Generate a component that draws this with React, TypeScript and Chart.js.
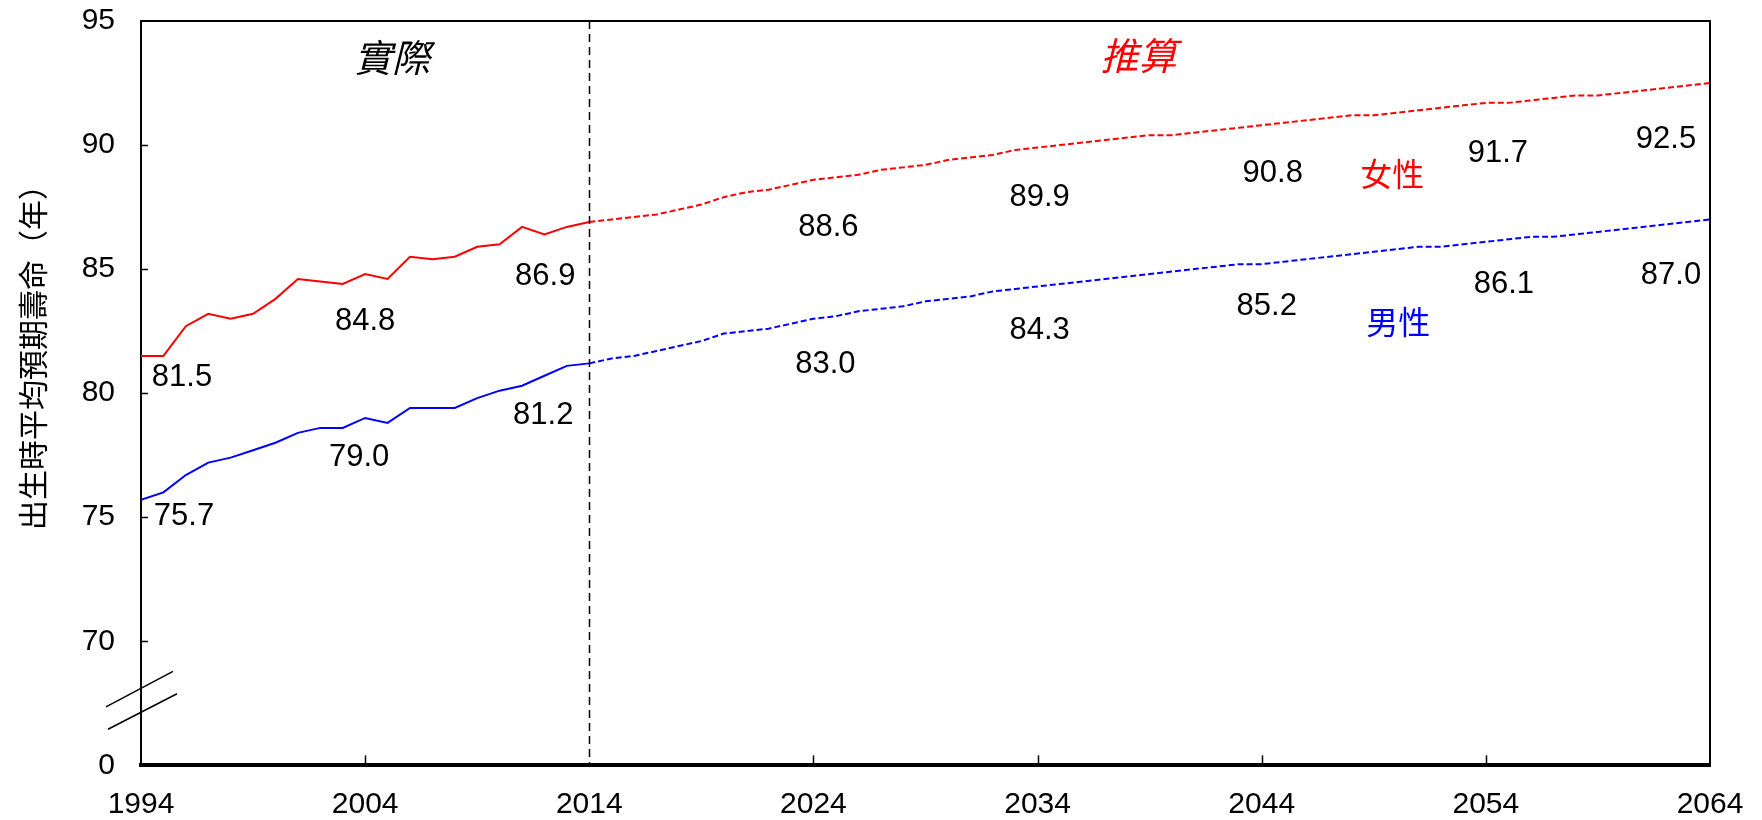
import React, { useEffect, useRef } from 'react';
import { Chart, registerables } from 'chart.js';

Chart.register(...registerables);

// ---------- data ----------
const actualYears = [1994, 1995, 1996, 1997, 1998, 1999, 2000, 2001, 2002, 2003, 2004, 2005, 2006, 2007, 2008, 2009, 2010, 2011, 2012, 2013, 2014];
const femaleActual = [81.5, 81.5, 82.7, 83.2, 83.0, 83.2, 83.8, 84.6, 84.5, 84.4, 84.8, 84.6, 85.5, 85.4, 85.5, 85.9, 86.0, 86.7, 86.4, 86.7, 86.9];
const maleActual = [75.7, 76.0, 76.7, 77.2, 77.4, 77.7, 78.0, 78.4, 78.6, 78.6, 79.0, 78.8, 79.4, 79.4, 79.4, 79.8, 80.1, 80.3, 80.7, 81.1, 81.2];

const projYears = [
  2014, 2015, 2016, 2017, 2018, 2019, 2020, 2021, 2022, 2023, 2024,
  2025, 2026, 2027, 2028, 2029, 2030, 2031, 2032, 2033, 2034,
  2035, 2036, 2037, 2038, 2039, 2040, 2041, 2042, 2043, 2044,
  2045, 2046, 2047, 2048, 2049, 2050, 2051, 2052, 2053, 2054,
  2055, 2056, 2057, 2058, 2059, 2060, 2061, 2062, 2063, 2064,
];
const femaleProj = [
  86.9, 87.0, 87.1, 87.2, 87.4, 87.6, 87.9, 88.1, 88.2, 88.4, 88.6,
  88.7, 88.8, 89.0, 89.1, 89.2, 89.4, 89.5, 89.6, 89.8, 89.9,
  90.0, 90.1, 90.2, 90.3, 90.4, 90.4, 90.5, 90.6, 90.7, 90.8,
  90.9, 91.0, 91.1, 91.2, 91.2, 91.3, 91.4, 91.5, 91.6, 91.7,
  91.7, 91.8, 91.9, 92.0, 92.0, 92.1, 92.2, 92.3, 92.4, 92.5,
];
const maleProj = [
  81.2, 81.4, 81.5, 81.7, 81.9, 82.1, 82.4, 82.5, 82.6, 82.8, 83.0,
  83.1, 83.3, 83.4, 83.5, 83.7, 83.8, 83.9, 84.1, 84.2, 84.3,
  84.4, 84.5, 84.6, 84.7, 84.8, 84.9, 85.0, 85.1, 85.2, 85.2,
  85.3, 85.4, 85.5, 85.6, 85.7, 85.8, 85.9, 85.9, 86.0, 86.1,
  86.2, 86.3, 86.3, 86.4, 86.5, 86.6, 86.7, 86.8, 86.9, 87.0,
];

const labelYears = [1994, 2004, 2014, 2024, 2034, 2044, 2054, 2064];
const xTicks = [1994, 2004, 2014, 2024, 2034, 2044, 2054, 2064];
const yTicks = [65, 70, 75, 80, 85, 90, 95];
const yBreakLabel = '0';
const dividerYear = 2014;

const yTitle = '出生時平均預期壽命（年）';
const actualText = '實際';
const projText = '推算';
const femaleName = '女性';
const maleName = '男性';

// ---------- styles / layout ----------
const RED = '#FF0000';
const BLUE = '#0000FF';
const SANS = 'Arial, "Liberation Sans", sans-serif';
const NUM_FONT = `31px ${SANS}`;
const CJK = '"Noto Sans CJK TC", "Noto Sans CJK SC", sans-serif';
// offsets (px) of the value labels from their data points
const femaleLabelOffsets = [[41, 22], [0, 47], [-44, 54], [15, 48], [2, 50], [11, 48], [12, 51], [-44, 56]];
const maleLabelOffsets = [[43, 17], [-6, 39], [-46, 52], [12, 46], [2, 44], [5, 42], [18, 43], [-39, 56]];

function valueAt(years: number[], vals: number[], yr: number) {
  const i = years.indexOf(yr);
  return i >= 0 ? vals[i] : NaN;
}

const allYears = [...actualYears, ...projYears.slice(1)];
const allFemale = [...femaleActual, ...femaleProj.slice(1)];
const allMale = [...maleActual, ...maleProj.slice(1)];

const decorPlugin = {
  id: 'decor',
  afterDatasetsDraw(chart: any) {
    const { ctx, chartArea: ca } = chart;
    const xs = chart.scales.x;
    const ys = chart.scales.y;
    ctx.save();

    // top & right frame
    ctx.strokeStyle = '#000';
    ctx.lineWidth = 2;
    ctx.beginPath();
    ctx.moveTo(ca.left, ca.top);
    ctx.lineTo(ca.right, ca.top);
    ctx.lineTo(ca.right, ca.bottom);
    ctx.stroke();

    // inside ticks
    ctx.lineWidth = 1.5;
    xTicks.forEach((t) => {
      if (t === xs.min || t === xs.max || t === dividerYear) return;
      const x = Math.round(xs.getPixelForValue(t)) + 0.5;
      ctx.beginPath();
      ctx.moveTo(x, ca.bottom);
      ctx.lineTo(x, ca.bottom - 10);
      ctx.stroke();
    });
    yTicks.forEach((t) => {
      if (t === ys.min || t === ys.max) return;
      const y = Math.round(ys.getPixelForValue(t)) + 0.5;
      ctx.beginPath();
      ctx.moveTo(ca.left, y);
      ctx.lineTo(ca.left + 7, y);
      ctx.stroke();
    });

    // divider between actual and projection
    const dx = Math.round(xs.getPixelForValue(dividerYear)) + 0.5;
    ctx.setLineDash([8, 5]);
    ctx.lineWidth = 1.5;
    ctx.beginPath();
    ctx.moveTo(dx, ca.top);
    ctx.lineTo(dx, ca.bottom);
    ctx.stroke();
    ctx.setLineDash([]);

    // axis break marks
    ctx.lineWidth = 1.5;
    const b1 = ys.getPixelForValue(68.1);
    const b2 = ys.getPixelForValue(67.2);
    [b1, b2].forEach((by, i) => {
      const off = i === 0 ? 0 : 2;
      ctx.beginPath();
      ctx.moveTo(ca.left - 35 - off + 4 * i, by + 18.5);
      ctx.lineTo(ca.left + 32 + off * 2, by - 17);
      ctx.stroke();
    });

    // value labels
    ctx.fillStyle = '#000';
    ctx.font = NUM_FONT;
    ctx.textAlign = 'center';
    ctx.textBaseline = 'middle';
    labelYears.forEach((yr, i) => {
      const fv = valueAt(allYears, allFemale, yr);
      const mv = valueAt(allYears, allMale, yr);
      const fx = xs.getPixelForValue(yr) + femaleLabelOffsets[i][0];
      const fy = ys.getPixelForValue(fv) + femaleLabelOffsets[i][1];
      ctx.fillText(fv.toFixed(1), fx, fy);
      const mx = xs.getPixelForValue(yr) + maleLabelOffsets[i][0];
      const my = ys.getPixelForValue(mv) + maleLabelOffsets[i][1];
      ctx.fillText(mv.toFixed(1), mx, my);
    });

    // series names
    ctx.font = `32px ${CJK}`;
    ctx.fillStyle = RED;
    ctx.fillText(femaleName, xs.getPixelForValue(2050) - 4, ys.getPixelForValue(valueAt(allYears, allFemale, 2050)) + 61);
    ctx.fillStyle = BLUE;
    ctx.fillText(maleName, xs.getPixelForValue(2050) + 2, ys.getPixelForValue(valueAt(allYears, allMale, 2050)) + 73);

    // period headers
    ctx.font = `italic 38px ${CJK}`;
    ctx.fillStyle = '#000';
    ctx.fillText(actualText, xs.getPixelForValue(2005.2), ca.top + 37);
    ctx.fillStyle = RED;
    ctx.fillText(projText, xs.getPixelForValue(2038.5), ca.top + 35);

    // y title
    ctx.fillStyle = '#000';
    ctx.font = `30px ${CJK}`;
    ctx.translate(33, 350);
    ctx.rotate(-Math.PI / 2);
    ctx.fillText(yTitle, 0, 0);

    ctx.restore();
  },
};

export default function App() {
  const ref = useRef<HTMLCanvasElement | null>(null);
  useEffect(() => {
    if (!ref.current) return;
    Chart.defaults.font.family = SANS;
    const chart = new Chart(ref.current, {
      type: 'line',
      data: {
        datasets: [
          {
            label: femaleName + actualText,
            data: actualYears.map((x, i) => ({ x, y: femaleActual[i] })),
            borderColor: RED,
            borderWidth: 2,
            pointRadius: 0,
            tension: 0,
          },
          {
            label: femaleName + projText,
            data: projYears.map((x, i) => ({ x, y: femaleProj[i] })),
            borderColor: RED,
            borderWidth: 2,
            borderDash: [6, 3],
            pointRadius: 0,
            tension: 0,
          },
          {
            label: maleName + actualText,
            data: actualYears.map((x, i) => ({ x, y: maleActual[i] })),
            borderColor: BLUE,
            borderWidth: 2,
            pointRadius: 0,
            tension: 0,
          },
          {
            label: maleName + projText,
            data: projYears.map((x, i) => ({ x, y: maleProj[i] })),
            borderColor: BLUE,
            borderWidth: 2,
            borderDash: [6, 3],
            pointRadius: 0,
            tension: 0,
          },
        ],
      },
      options: {
        responsive: false,
        animation: false,
        events: [],
        layout: { padding: { left: 0, top: 21, right: 52, bottom: 0 } },
        plugins: {
          legend: { display: false },
          tooltip: { enabled: false },
          title: { display: false },
        },
        scales: {
          x: {
            type: 'linear',
            min: 1994,
            max: 2064,
            afterBuildTicks: (s: any) => {
              s.ticks = xTicks.map((v) => ({ value: v }));
            },
            afterFit: (s: any) => {
              s.height = 54.7;
              s.paddingLeft = 0;
              s.paddingRight = 0;
            },
            ticks: {
              color: '#000',
              font: { size: 30, family: SANS },
              padding: 21,
              maxRotation: 0,
              autoSkip: false,
              callback: (v: any) => String(v),
            },
            grid: { display: false, drawTicks: false },
            border: { display: true, color: '#000', width: 4 },
          },
          y: {
            type: 'linear',
            min: 65,
            max: 95,
            afterBuildTicks: (s: any) => {
              s.ticks = yTicks.map((v) => ({ value: v }));
            },
            afterFit: (s: any) => {
              s.width = 141;
              s.paddingTop = 0;
              s.paddingBottom = 0;
            },
            ticks: {
              color: '#000',
              font: { size: 30, family: SANS },
              padding: 26,
              autoSkip: false,
              callback: (v: any) => (v === 65 ? yBreakLabel : String(v)),
            },
            grid: { display: false, drawTicks: false },
            border: { display: true, color: '#000', width: 2 },
          },
        },
      },
      plugins: [decorPlugin],
    });
    return () => chart.destroy();
  }, []);

  return (
    <div style={{ position: 'absolute', left: 0, top: 0, width: 1762, height: 820, background: '#fff' }}>
      <canvas ref={ref} width={1762} height={820} style={{ width: 1762, height: 820, display: 'block' }} />
    </div>
  );
}
